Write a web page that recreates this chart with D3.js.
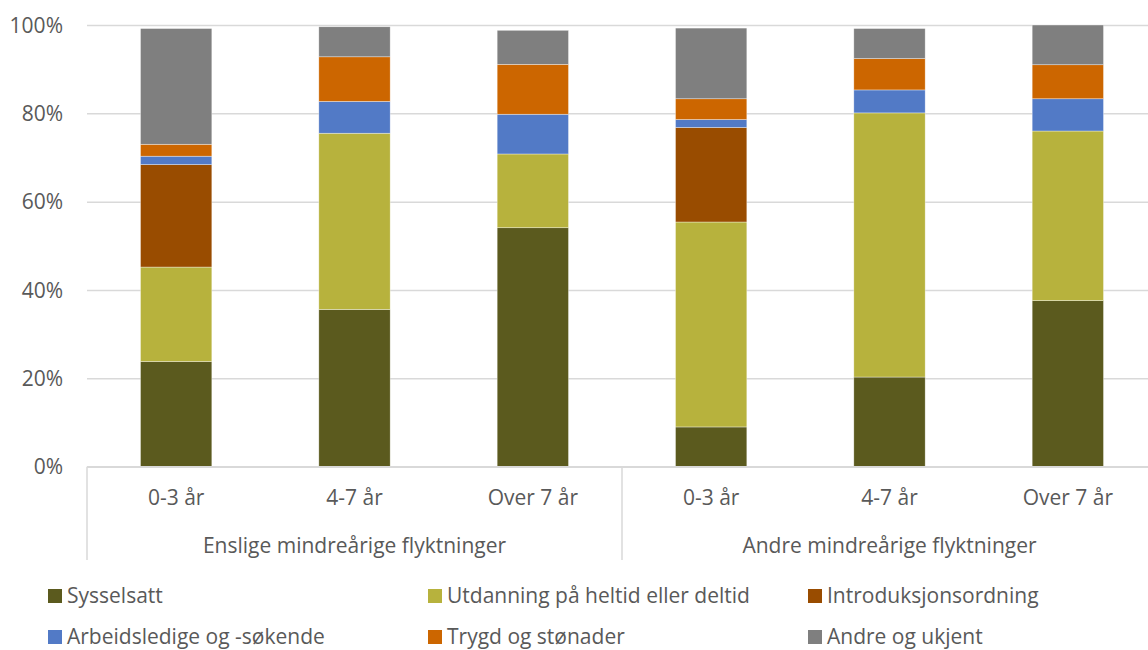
<!DOCTYPE html>
<html>
<head>
<meta charset="utf-8">
<script src="https://cdn.jsdelivr.net/npm/d3@7"></script>
<style>
  body { margin: 0; background: #fff; }
  svg text { font-family: "Open Sans", "Noto Sans", sans-serif; fill: #595959; }
</style>
</head>
<body>
<svg width="1148" height="650"></svg>
<script>
const periods = ["0-3 år", "4-7 år", "Over 7 år"]
const groups = ["Enslige mindreårige flyktninger", "Andre mindreårige flyktninger"]
const seriesNames = ["Sysselsatt", "Utdanning på heltid eller deltid", "Introduksjonsordning",
  "Arbeidsledige og -søkende", "Trygd og stønader", "Andre og ukjent"]
const seriesColors = ["#5b5a1e", "#b7b23d", "#994c00", "#527ac6", "#cc6600", "#7f7f7f"]

// per bar: Enslige 0-3, 4-7, over 7, Andre 0-3, 4-7, over 7
const sysselsatt = [23.8, 35.6, 54.1, 9.0, 20.3, 37.6]
const utdanning = [21.4, 39.9, 16.7, 46.4, 59.8, 38.4]
const introduksjon = [23.2, 0, 0, 21.4, 0, 0]
const arbeidsledige = [1.9, 7.2, 9.0, 1.8, 5.2, 7.3]
const trygd = [2.7, 10.1, 11.3, 4.7, 7.1, 7.7]
const andre = [26.2, 6.8, 7.7, 16.0, 6.8, 9.0]
const yTicks = [0, 20, 40, 60, 80, 100]

const seriesValues = [sysselsatt, utdanning, introduksjon, arbeidsledige, trygd, andre]

const rows = []
groups.forEach((g, gi) => {
  periods.forEach((p, pi) => {
    const i = gi * periods.length + pi
    const row = {key: g + "|" + p, group: g, period: p}
    seriesNames.forEach((s, si) => { row[s] = seriesValues[si][i] })
    rows.push(row)
  })
})

const svg = d3.select("svg")
const margin = {top: 25, left: 87, right: 1157, bottom: 466.7}
const fontSize = 21

const x = d3.scaleBand()
  .domain(rows.map(d => d.key))
  .range([margin.left, margin.right])
  .paddingInner(0.6)
  .paddingOuter(0.3)

const y = d3.scaleLinear()
  .domain([0, 100])
  .range([margin.bottom, margin.top])

// gridlines + y labels
const yAxis = svg.append("g")
  .attr("transform", `translate(${margin.left},0)`)
  .call(d3.axisLeft(y)
    .tickValues(yTicks)
    .tickSize(-(margin.right - margin.left))
    .tickPadding(24)
    .tickFormat(d => d + "%"))
yAxis.select(".domain").remove()
yAxis.selectAll(".tick line").attr("stroke", "#d9d9d9").attr("stroke-width", 1.5)
yAxis.selectAll(".tick text").attr("font-size", fontSize).attr("fill", "#595959")
  .attr("dy", "0.34em")

// stacked bars
const stack = d3.stack().keys(seriesNames)(rows)

svg.append("g").selectAll("g")
  .data(stack)
  .join("g")
  .attr("fill", (d, i) => seriesColors[i])
  .selectAll("rect")
  .data(d => d.filter(v => v[1] - v[0] > 0))
  .join("rect")
  .attr("x", d => x(d.data.key))
  .attr("width", x.bandwidth())
  .attr("y", d => y(d[1]))
  .attr("height", d => y(d[0]) - y(d[1]))
  .attr("stroke", "#ffffff")
  .attr("stroke-opacity", 0.6)
  .attr("stroke-width", 0.6)

// category axis
const axisG = svg.append("g")
axisG.append("line")
  .attr("x1", margin.left).attr("x2", margin.right)
  .attr("y1", y(0)).attr("y2", y(0))
  .attr("stroke", "#d9d9d9").attr("stroke-width", 1.5)

const groupEdges = [0, periods.length, rows.length].map(i => {
  if (i === 0) return margin.left
  if (i === rows.length) return margin.right
  return (x(rows[i - 1].key) + x.bandwidth() + x(rows[i].key)) / 2
})

axisG.selectAll(".sep")
  .data(groupEdges)
  .join("line")
  .attr("x1", d => d).attr("x2", d => d)
  .attr("y1", y(0)).attr("y2", 560)
  .attr("stroke", "#d9d9d9").attr("stroke-width", 1.5)

axisG.selectAll(".period")
  .data(rows)
  .join("text")
  .attr("x", d => x(d.key) + x.bandwidth() / 2)
  .attr("y", 505)
  .attr("text-anchor", "middle")
  .attr("font-size", fontSize)
  .text(d => d.period)

axisG.selectAll(".group")
  .data(groups)
  .join("text")
  .attr("x", (d, i) => {
    const first = rows[i * periods.length].key
    const last = rows[i * periods.length + periods.length - 1].key
    return (x(first) + x(last) + x.bandwidth()) / 2
  })
  .attr("y", 553)
  .attr("text-anchor", "middle")
  .attr("font-size", fontSize)
  .text(d => d)

// legend
const legendCols = [48, 428, 808]
const legendRows = [589, 630]

const legend = svg.append("g").selectAll("g")
  .data(seriesNames)
  .join("g")
  .attr("transform", (d, i) => `translate(${legendCols[i % 3]},${legendRows[Math.floor(i / 3)]})`)

legend.append("rect")
  .attr("width", 14).attr("height", 14)
  .attr("fill", (d, i) => seriesColors[i])

legend.append("text")
  .attr("x", 19)
  .attr("y", 14)
  .attr("font-size", fontSize)
  .text(d => d)
</script>
</body>
</html>
